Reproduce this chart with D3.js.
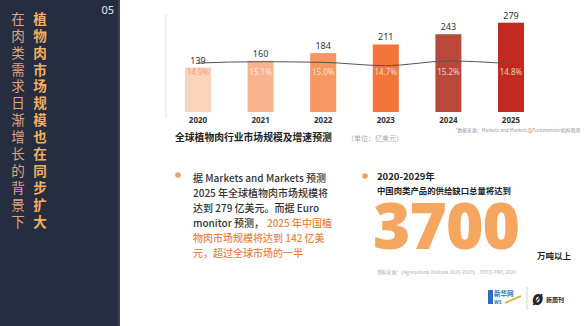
<!DOCTYPE html>
<html><head><meta charset="utf-8">
<script src="https://cdn.jsdelivr.net/npm/d3@7"></script>
<style>html,body{margin:0;padding:0;background:#fff;}svg{display:block;font-family:"Noto Sans CJK SC","Noto Sans",sans-serif;}</style>
</head><body>
<script>
const years = ["2020","2021","2022","2023","2024","2025"];
const marketSize = [139,160,184,211,243,279];
const growthRate = [14.9,15.1,15.0,14.5,15.2,14.8];
const growthLabels = ["14.9%","15.1%","15.0%","14.7%","15.2%","14.8%"];
const barColors = ["#f9d3bb","#f8b48f","#f5975e","#f47537","#b9493b","#c22a1f"];
const titleMain = "植物肉市场规模也在同步扩大";
const titleSub = "在肉类需求日渐增长的背景下";

const W=588,H=326;
const svg=d3.select("body").append("svg").attr("width",W).attr("height",H);

// left panel
svg.append("rect").attr("x",0).attr("y",0).attr("width",120).attr("height",H).attr("fill","#262d41");
svg.append("rect").attr("x",118).attr("y",0).attr("width",2).attr("height",H).attr("fill","#3a4257");
svg.append("text").attr("x",114).attr("y",14).attr("text-anchor","end").attr("fill","#e6e8ee").attr("font-size",11).attr("font-family","Noto Sans, sans-serif").text("05");
const defs=svg.append("defs");
const lg=defs.append("linearGradient").attr("id","tg").attr("x1",0).attr("y1",0).attr("x2",0).attr("y2",1);
lg.append("stop").attr("offset","0%").attr("stop-color","#f6b060");
lg.append("stop").attr("offset","100%").attr("stop-color","#f09a48");
svg.append("text").attr("x",40).attr("y",12).attr("style","writing-mode:vertical-rl").attr("letter-spacing",3.4)
 .attr("font-size",13.5).attr("font-weight",700).attr("fill","url(#tg)").text(titleMain);
svg.append("text").attr("x",18).attr("y",12).attr("style","writing-mode:vertical-rl").attr("letter-spacing",3.4)
 .attr("font-size",13.5).attr("font-weight",400).attr("fill","#dfa57c").text(titleSub);

// chart
const x=d3.scalePoint().domain(years).range([198,511]);
const y=d3.scaleLinear().domain([0,300]).range([112,16]);
const yr=d3.scaleLinear().domain([14,16]).range([69,55.7]);
const bw=26;
svg.append("line").attr("x1",166).attr("x2",166).attr("y1",14).attr("y2",118).attr("stroke","#e2e2e2").attr("stroke-width",1);
const g=svg.append("g");
g.selectAll("rect.bar").data(years).enter().append("rect").attr("class","bar")
 .attr("x",d=>x(d)-bw/2).attr("width",bw)
 .attr("y",(d,i)=>y(marketSize[i])).attr("height",(d,i)=>y(0)-y(marketSize[i]))
 .attr("fill",(d,i)=>barColors[i]);
g.selectAll("text.val").data(years).enter().append("text")
 .attr("x",d=>x(d)).attr("y",(d,i)=>y(marketSize[i])-4).attr("text-anchor","middle")
 .attr("font-size",9).attr("fill","#333").attr("font-family","Noto Sans, sans-serif").text((d,i)=>marketSize[i]);
g.selectAll("text.yr").data(years).enter().append("text")
 .attr("x",d=>x(d)).attr("y",123).attr("text-anchor","middle")
 .attr("font-size",8).attr("font-weight",700).attr("fill","#333").attr("font-family","Noto Sans, sans-serif").text(d=>d);
const line=d3.line().x((d,i)=>x(years[i])).y(d=>yr(d)).curve(d3.curveMonotoneX);
g.append("path").attr("d",line(growthRate)).attr("fill","none").attr("stroke","#555").attr("stroke-width",1);
g.selectAll("text.gr").data(years).enter().append("text")
 .attr("x",d=>x(d)).attr("y",75).attr("text-anchor","middle")
 .attr("font-size",8).attr("font-family","Noto Sans, sans-serif")
 .attr("fill",(d,i)=>i===0?"#eea077":"rgba(255,255,255,0.75)").text((d,i)=>growthLabels[i]);

svg.append("text").attr("x",175).attr("y",141).attr("font-size",9.8).attr("font-weight",700).attr("fill","#222").text("全球植物肉行业市场规模及增速预测");
svg.append("text").attr("x",347).attr("y",141).attr("font-size",7).attr("fill","#aaa").text("（单位：亿美元）");
svg.append("text").attr("x",580).attr("y",132).attr("text-anchor","end").attr("font-size",4.8).attr("fill","#999").text("*数据来源：Markets and Markets及Euromonitor机构预测");

// bullet left
svg.append("circle").attr("cx",178).attr("cy",175).attr("r",2.8).attr("fill","#f0a060");
const lines=[
 [["据 Markets and Markets 预测","#333"]],
 [["2025 年全球植物肉市场规模将","#333"]],
 [["达到 279 亿美元。而据 Euro","#333"]],
 [["monitor 预测，","#333"],["2025 年中国植","#f0843f"]],
 [["物肉市场规模将达到 142 亿美","#f0843f"]],
 [["元，超过全球市场的一半","#f0843f"]]
];
const maxW=139;
lines.forEach((l,i)=>{
  const yy=182+i*14.9;
  if(l.length===1){
    const t=svg.append("text").attr("transform",`translate(193,${yy})`).attr("font-size",10).attr("font-weight",500)
      .attr("fill",l[0][1]).text(l[0][0]);
    const w=t.node().getComputedTextLength();
    if(w>maxW) t.attr("transform",`translate(193,${yy}) scale(${maxW/w},1)`);
  } else {
    svg.append("text").attr("x",193).attr("y",yy).attr("font-size",10).attr("font-weight",500).attr("fill",l[0][1]).text(l[0][0]);
    svg.append("text").attr("x",332).attr("text-anchor","end").attr("y",yy).attr("font-size",10).attr("font-weight",500).attr("fill",l[1][1]).text(l[1][0]);
  }
});

// right block
svg.append("circle").attr("cx",365).attr("cy",176).attr("r",2.8).attr("fill","#f0a060");
svg.append("text").attr("x",377).attr("y",179.5).attr("font-size",9.5).attr("font-weight",700).attr("fill","#222").text("2020-2029年");
svg.append("text").attr("x",377).attr("y",193.5).attr("font-size",8.4).attr("font-weight",700).attr("fill","#222").text("中国肉类产品的供给缺口总量将达到");
svg.append("text").attr("x",373).attr("y",249).attr("font-size",64).attr("font-weight",800).attr("fill","#f5a660").attr("font-family","Open Sans, sans-serif").attr("letter-spacing",-1).text("3700");
svg.append("text").attr("x",537).attr("y",259).attr("font-size",8.5).attr("font-weight",700).attr("fill","#222").text("万吨以上");
svg.append("text").attr("x",377).attr("y",274).attr("font-size",4.8).attr("fill","#aaa").text("资料来源：《Agricultural Outlook 2020-2029》, OECD-FAO, 2020");

// logos
const lgG=svg.append("g");
lgG.append("rect").attr("x",488).attr("y",290).attr("width",5).attr("height",14).attr("fill","#2a6fc0");
lgG.append("text").attr("x",494).attr("y",296).attr("font-size",6.5).attr("font-weight",700).attr("fill","#2a6fc0").text("新华网");
lgG.append("text").attr("x",494).attr("y",304).attr("font-size",5.5).attr("font-weight",700).attr("fill","#2a6fc0").text("ws");
lgG.append("path").attr("d","M505,303 L521,296").attr("stroke","#d9b020").attr("stroke-width",1.5);
lgG.append("line").attr("x1",527).attr("x2",527).attr("y1",287).attr("y2",310).attr("stroke","#bbb").attr("stroke-width",0.6);
lgG.append("text").attr("x",532).attr("y",305).attr("font-size",15).attr("font-weight",800).attr("font-style","italic").attr("fill","#222").attr("font-family","Open Sans, sans-serif").text("Ø");
lgG.append("text").attr("x",546).attr("y",302).attr("font-size",6).attr("font-weight",700).attr("fill","#222").text("新周刊");
</script>
</body></html>
